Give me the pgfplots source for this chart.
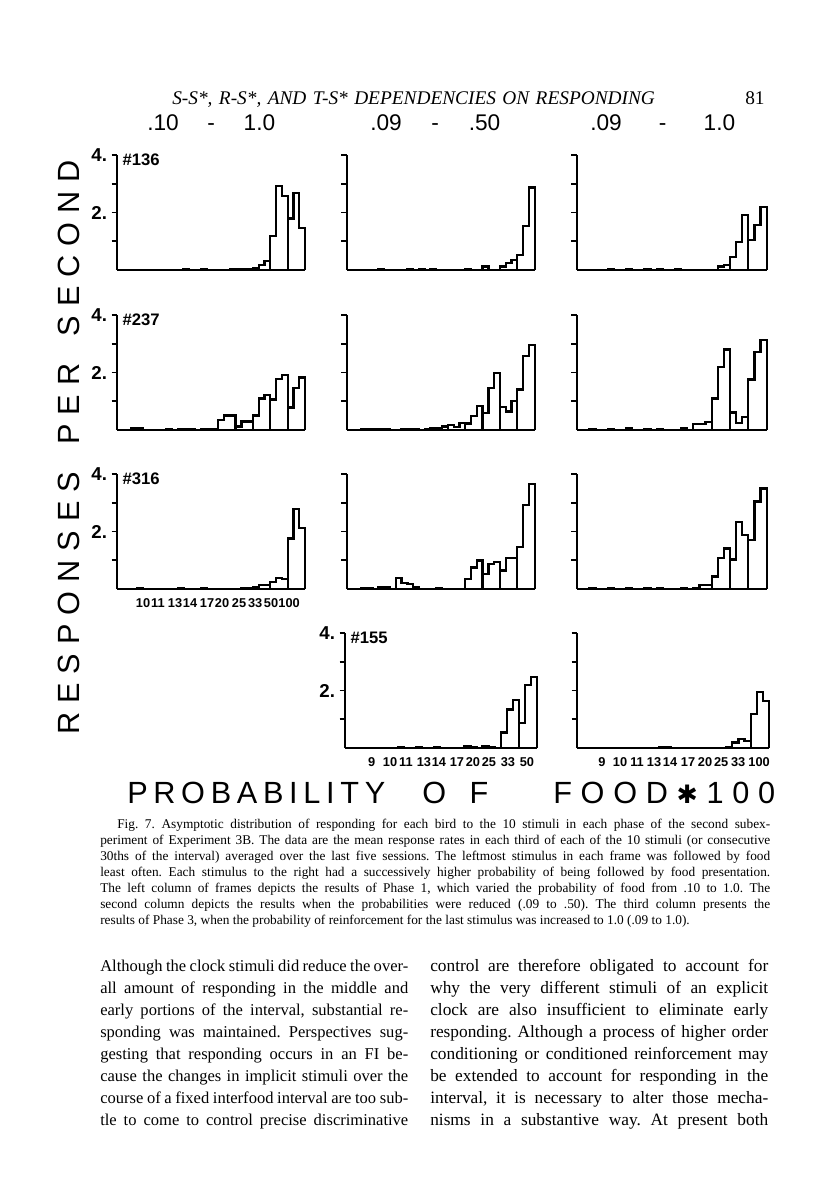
\documentclass[border=0pt]{standalone}
\usepackage{fontspec}
\setmainfont{Liberation Serif}
\setsansfont{Liberation Sans}
\newfontfamily\dejavu{DejaVu Sans}
\usepackage{pgfplots}
\pgfplotsset{compat=1.18}

% tick label and panel label fonts
\newcommand\tl[1]{\textsf{\bfseries\fontsize{9.6}{9.6}\selectfont #1}}
\newcommand\yl[1]{\textsf{\bfseries\fontsize{14}{14}\selectfont #1}}
\newcommand\bird[1]{\node[anchor=north west, inner sep=0pt,
  font=\sffamily\bfseries\fontsize{12.5}{12.5}\selectfont]
  at (rel axis cs:0,1) [xshift=4pt, yshift=1pt] {\##1};}

% one stimulus = three thirds, drawn as a closed step outline
\newcommand\stim[4]{%
  \pgfmathsetmacro\xa{3*#1}\pgfmathsetmacro\xb{3*#1+1}%
  \pgfmathsetmacro\xc{3*#1+2}\pgfmathsetmacro\xd{3*#1+3}%
  \edef\doit{\noexpand\addplot[hist] coordinates
    {(\xa,0) (\xa,#2) (\xb,#3) (\xc,#4) (\xd,#4) (\xd,0)};}\doit}

\pgfplotsset{
  panel/.style={scale only axis, width=141pt, height=86.25pt, anchor=south west,
    xmin=-2.5, xmax=30, ymin=0, ymax=4, enlargelimits=false,
    axis x line=bottom, axis y line=left,
    every outer x axis line/.append style={-},
    every outer y axis line/.append style={-},
    axis line style={-, line width=1.6pt, black},
    ytick={1,2,3,4}, yticklabels={}, xtick=\empty,
    tick align=outside, major tick length=4pt,
    y tick style={line width=1.4pt, black},
    x tick style={draw=none},
    xticklabel style={anchor=base, inner sep=0pt, text height=7pt, text depth=0pt, yshift=-10pt},
    clip=false},
  hist/.style={const plot, black, line width=1.7pt, mark=none, forget plot},
  ylab/.style={yticklabels={,\yl{2.},,\yl{4.}}},
}

% text lines placed in page pixels (1 px = 0.75 pt)
\newcommand\jline[4]{\node[anchor=base west, inner sep=0pt] at ({#1*0.75pt},{#2*0.75pt}) {\makebox[#3][s]{#4}};}
\newcommand\pline[3]{\node[anchor=base west, inner sep=0pt] at ({#1*0.75pt},{#2*0.75pt}) {#3};}

\begin{document}
\frenchspacing
\begin{tikzpicture}
\fill[white] (0,0) rectangle (612pt,894.75pt);
\useasboundingbox (0,0) rectangle (612pt,894.75pt);

% running head
\node[anchor=base west, inner sep=0pt, font=\itshape\fontsize{14.5}{14.5}\selectfont]
  at (129pt,816pt) {\makebox[362pt][s]{S-S*, R-S*, AND T-S* DEPENDENCIES ON RESPONDING}};
\node[anchor=base west, inner sep=0pt, font=\fontsize{14.5}{14.5}\selectfont] at (558.75pt,816pt) {81};

% column titles
\begin{scope}[every node/.style={anchor=base west, inner sep=0pt, font=\sffamily\fontsize{17}{17}\selectfont}]
\node at (110.25pt,796.9pt) {\makebox[96pt][s]{.10\hfill-\hfill1.0}};
\node at (277.5pt,796.9pt) {\makebox[97.5pt][s]{.09\hfill-\hfill.50}};
\node at (442.5pt,796.9pt) {\makebox[108.75pt][s]{.09\hfill-\hfill1.0}};
\end{scope}

% big axis titles
\node[rotate=90, anchor=base west, inner sep=0pt, font=\sffamily\fontsize{23}{23}\selectfont]
  at (59.25pt,343.5pt) {\makebox[431pt][s]{R\hfill E\hfill S\hfill P\hfill O\hfill N\hfill S\hfill E\hfill S\hfill\hfill\hfill P\hfill E\hfill R\hfill\hfill\hfill S\hfill E\hfill C\hfill O\hfill N\hfill D}};
\begin{scope}[every node/.style={anchor=base west, inner sep=0pt, font=\sffamily\fontsize{23}{23}\selectfont}]
\node at (95.25pt,291.75pt) {\makebox[193.5pt][s]{P\hfill R\hfill O\hfill B\hfill A\hfill B\hfill I\hfill L\hfill I\hfill T\hfill Y}};
\node at (316.5pt,291.75pt) {\makebox[49.5pt][s]{O\hfill F}};
\node at (414.75pt,291.75pt) {\makebox[166.5pt][s]{F\hfill O\hfill O\hfill D\hfill{\dejavu\fontsize{19}{19}\selectfont ✱}\hfill 1\hfill 0\hfill 0}};
\end{scope}

%%%%% row 1 : bird 136
\begin{axis}[panel, ylab, at={(87.75pt,692.25pt)}]
\stim{0}{0.01}{0.01}{0.01}\stim{1}{0.01}{0.01}{0.01}\stim{2}{0.01}{0.01}{0.01}
\stim{3}{0.03}{0.01}{0.01}\stim{4}{0.04}{0.01}{0.01}\stim{5}{0.01}{0.01}{0.02}
\stim{6}{0.03}{0.02}{0.02}\stim{7}{0.06}{0.17}{0.30}\stim{8}{1.18}{2.91}{2.57}
\stim{9}{1.79}{2.68}{1.47}
\bird{136}
\end{axis}
\begin{axis}[panel, at={(260pt,692.25pt)}]
\stim{0}{0.01}{0.01}{0.01}\stim{1}{0.02}{0.01}{0.01}\stim{2}{0.01}{0.01}{0.03}
\stim{3}{0.01}{0.03}{0.01}\stim{4}{0.03}{0.01}{0.01}\stim{5}{0.01}{0.01}{0.01}
\stim{6}{0.02}{0.01}{0.01}\stim{7}{0.12}{0.01}{0.01}\stim{8}{0.12}{0.25}{0.35}
\stim{9}{0.52}{1.53}{2.87}
\end{axis}
\begin{axis}[panel, width=142.5pt, xmin=-1.1, at={(432.5pt,692.25pt)}]
\stim{0}{0.01}{0.01}{0.01}\stim{1}{0.01}{0.03}{0.01}\stim{2}{0.01}{0.04}{0.01}
\stim{3}{0.01}{0.03}{0.01}\stim{4}{0.03}{0.01}{0.01}\stim{5}{0.02}{0.01}{0.01}
\stim{6}{0.01}{0.01}{0.01}\stim{7}{0.01}{0.12}{0.17}\stim{8}{0.44}{0.98}{1.91}
\stim{9}{1.04}{1.56}{2.20}
\end{axis}

%%%%% row 2 : bird 237
\begin{axis}[panel, ylab, at={(87.75pt,572.25pt)}]
\stim{0}{0.06}{0.05}{0.01}\stim{1}{0.01}{0.01}{0.01}\stim{2}{0.02}{0.01}{0.02}
\stim{3}{0.02}{0.02}{0.01}\stim{4}{0.03}{0.03}{0.03}\stim{5}{0.35}{0.50}{0.50}
\stim{6}{0.12}{0.30}{0.30}\stim{7}{0.50}{1.10}{1.22}\stim{8}{1.06}{1.77}{1.91}
\stim{9}{0.78}{1.45}{1.83}
\bird{237}
\end{axis}
\begin{axis}[panel, at={(260pt,572.25pt)}]
\stim{0}{0.02}{0.04}{0.04}\stim{1}{0.04}{0.03}{0.01}\stim{2}{0.01}{0.02}{0.03}
\stim{3}{0.03}{0.01}{0.02}\stim{4}{0.08}{0.08}{0.12}\stim{5}{0.17}{0.10}{0.25}
\stim{6}{0.23}{0.48}{0.83}\stim{7}{0.60}{1.45}{1.97}\stim{8}{0.79}{0.64}{1.02}
\stim{9}{1.41}{2.57}{2.95}
\end{axis}
\begin{axis}[panel, width=142.5pt, xmin=-1.1, at={(432.5pt,572.25pt)}]
\stim{0}{0.01}{0.02}{0.01}\stim{1}{0.01}{0.03}{0.01}\stim{2}{0.01}{0.05}{0.01}
\stim{3}{0.01}{0.03}{0.01}\stim{4}{0.02}{0.01}{0.01}\stim{5}{0.01}{0.07}{0.01}
\stim{6}{0.20}{0.20}{0.29}\stim{7}{1.10}{2.18}{2.80}\stim{8}{0.61}{0.25}{0.44}
\stim{9}{1.76}{2.72}{3.12}
\end{axis}

%%%%% row 3 : bird 316
\begin{axis}[panel, ylab, at={(87.75pt,453pt)},
  xtick={2.0,4.59,7.53,10.13,13.07,15.67,18.61,21.38,24.14,27.26},
  xticklabels={\tl{10},\tl{11},\tl{13},\tl{14},\tl{17},\tl{20},\tl{25},\tl{33},\tl{50},\tl{100}}]
\stim{0}{0.01}{0.03}{0.01}\stim{1}{0.01}{0.01}{0.01}\stim{2}{0.01}{0.01}{0.03}
\stim{3}{0.01}{0.01}{0.01}\stim{4}{0.03}{0.01}{0.01}\stim{5}{0.01}{0.01}{0.01}
\stim{6}{0.01}{0.02}{0.02}\stim{7}{0.06}{0.14}{0.14}\stim{8}{0.25}{0.37}{0.35}
\stim{9}{1.76}{2.77}{2.11}
\bird{316}
\end{axis}
\begin{axis}[panel, at={(260pt,453pt)}]
\stim{0}{0.04}{0.03}{0.01}\stim{1}{0.05}{0.06}{0.01}\stim{2}{0.37}{0.22}{0.17}
\stim{3}{0.06}{0.01}{0.01}\stim{4}{0.01}{0.04}{0.01}\stim{5}{0.01}{0.01}{0.01}
\stim{6}{0.34}{0.75}{0.99}\stim{7}{0.52}{0.86}{0.95}\stim{8}{0.64}{1.07}{1.07}
\stim{9}{1.45}{2.92}{3.65}
\end{axis}
\begin{axis}[panel, width=142.5pt, xmin=-1.1, at={(432.5pt,453pt)}]
\stim{0}{0.01}{0.02}{0.01}\stim{1}{0.01}{0.03}{0.01}\stim{2}{0.01}{0.03}{0.01}
\stim{3}{0.01}{0.03}{0.01}\stim{4}{0.02}{0.01}{0.01}\stim{5}{0.01}{0.03}{0.01}
\stim{6}{0.02}{0.14}{0.14}\stim{7}{0.43}{1.07}{1.41}\stim{8}{1.03}{2.34}{1.88}
\stim{9}{1.70}{3.04}{3.50}
\end{axis}

%%%%% row 4 : bird 155 (phases 2 and 3 only)
\begin{axis}[panel, ylab, width=144pt, xmin=-1.7, at={(258.75pt,333.75pt)},
  xtick={2.71,5.73,8.37,11.34,13.81,16.78,19.42,22.06,25.2,28.33},
  xticklabels={\tl{9},\tl{10},\tl{11},\tl{13},\tl{14},\tl{17},\tl{20},\tl{25},\tl{33},\tl{50}}]
\stim{0}{0.01}{0.01}{0.01}\stim{1}{0.01}{0.01}{0.01}\stim{2}{0.01}{0.02}{0.01}
\stim{3}{0.01}{0.02}{0.01}\stim{4}{0.01}{0.03}{0.01}\stim{5}{0.01}{0.01}{0.01}
\stim{6}{0.05}{0.04}{0.01}\stim{7}{0.05}{0.04}{0.01}\stim{8}{0.54}{1.34}{1.67}
\stim{9}{0.87}{2.19}{2.46}
\bird{155}
\end{axis}
\begin{axis}[panel, width=144pt, xmin=-1.4, at={(432.75pt,333.75pt)},
  xtick={2.69,5.64,8.42,11.2,13.82,16.77,19.55,22.17,24.95,28.39},
  xticklabels={\tl{9},\tl{10},\tl{11},\tl{13},\tl{14},\tl{17},\tl{20},\tl{25},\tl{33},\tl{100}}]
\stim{0}{0.01}{0.01}{0.01}\stim{1}{0.01}{0.01}{0.01}\stim{2}{0.01}{0.01}{0.01}
\stim{3}{0.01}{0.01}{0.01}\stim{4}{0.02}{0.02}{0.01}\stim{5}{0.01}{0.01}{0.01}
\stim{6}{0.01}{0.01}{0.01}\stim{7}{0.01}{0.01}{0.02}\stim{8}{0.19}{0.32}{0.24}
\stim{9}{1.19}{1.95}{1.63}
\end{axis}

% caption
\begin{scope}[every node/.style={font=\fontsize{10}{12}\selectfont}]
\jline{117}{364}{489.75pt}{Fig. 7.\enspace Asymptotic distribution of responding for each bird to the 10 stimuli in each phase of the second subex-}
\jline{100}{348}{502.5pt}{periment of Experiment 3B. The data are the mean response rates in each third of each of the 10 stimuli (or consecutive}
\jline{100}{332}{502.5pt}{30ths of the interval) averaged over the last five sessions. The leftmost stimulus in each frame was followed by food}
\jline{100}{316}{502.5pt}{least often. Each stimulus to the right had a successively higher probability of being followed by food presentation.}
\jline{100}{300}{502.5pt}{The left column of frames depicts the results of Phase 1, which varied the probability of food from .10 to 1.0. The}
\jline{100}{284}{502.5pt}{second column depicts the results when the probabilities were reduced (.09 to .50). The third column presents the}
\pline{100}{268}{results of Phase 3, when the probability of reinforcement for the last stimulus was increased to 1.0 (.09 to 1.0).}
\end{scope}

% body text, two columns
\begin{scope}[every node/.style={font=\fontsize{12.4}{14}\selectfont}]
\jline{100}{221}{231pt}{Although the clock stimuli did reduce the over-}
\jline{100}{199}{231pt}{all amount of responding in the middle and}
\jline{100}{177}{231pt}{early portions of the interval, substantial re-}
\jline{100}{155}{231pt}{sponding was maintained. Perspectives sug-}
\jline{100}{133}{231pt}{gesting that responding occurs in an FI be-}
\jline{100}{111}{231pt}{cause the changes in implicit stimuli over the}
\jline{100}{89}{231pt}{course of a fixed interfood interval are too sub-}
\jline{100}{67}{231pt}{tle to come to control precise discriminative}
\end{scope}
\begin{scope}[every node/.style={font=\fontsize{13}{14}\selectfont}]
\jline{430}{221}{253.5pt}{control are therefore obligated to account for}
\jline{430}{199}{253.5pt}{why the very different stimuli of an explicit}
\jline{430}{177}{253.5pt}{clock are also insufficient to eliminate early}
\jline{430}{155}{253.5pt}{responding. Although a process of higher order}
\jline{430}{133}{253.5pt}{conditioning or conditioned reinforcement may}
\jline{430}{111}{253.5pt}{be extended to account for responding in the}
\jline{430}{89}{253.5pt}{interval, it is necessary to alter those mecha-}
\jline{430}{67}{253.5pt}{nisms in a substantive way. At present both}
\end{scope}
\end{tikzpicture}
\end{document}
